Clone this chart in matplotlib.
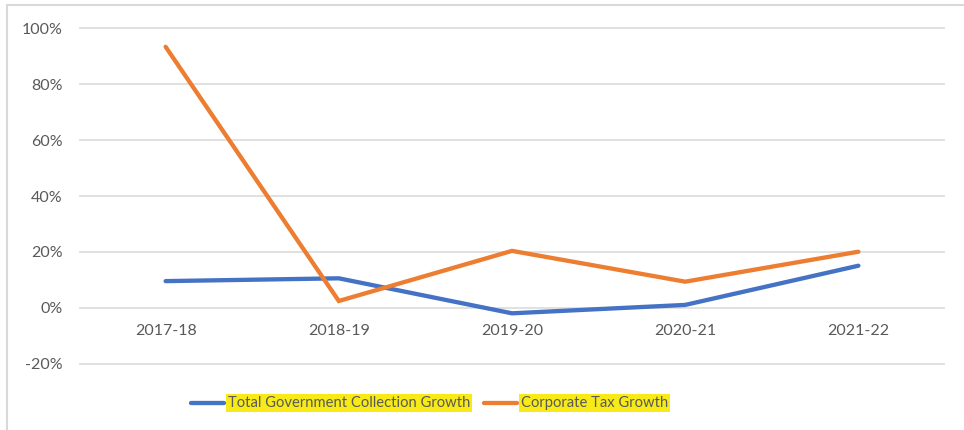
import matplotlib
matplotlib.use("Agg")
import matplotlib.pyplot as plt
from matplotlib.lines import Line2D
from matplotlib.ticker import FuncFormatter

# Fiscal years and growth rates (fractions)
years = ["2017-18", "2018-19", "2019-20", "2020-21", "2021-22"]
total_collection_growth = [0.096, 0.106, -0.019, 0.011, 0.151]
corporate_tax_growth = [0.933, 0.025, 0.204, 0.094, 0.201]
series_names = ["Total Government Collection Growth", "Corporate Tax Growth"]
series_colors = ["#4472C4", "#ED7D31"]
y_ticks = [-0.2, 0.0, 0.2, 0.4, 0.6, 0.8, 1.0]

W, H = 964, 430
FS = 11.5
TXT = "#595959"
fig = plt.figure(figsize=(W / 100, H / 100), dpi=100)
fig.patch.set_facecolor("white")
plt.rcParams["font.family"] = ["Lato", "DejaVu Sans"]

ax = fig.add_axes([79 / W, 1 - 365 / H, (945 - 79) / W, (365 - 27) / H])
x = list(range(len(years)))

for vals, name, col in zip([total_collection_growth, corporate_tax_growth],
                           series_names, series_colors):
    ax.plot(x, vals, color=col, lw=3.1, solid_capstyle="round",
            solid_joinstyle="miter", zorder=3, label=name)

ax.set_xlim(-0.5, len(years) - 0.5)
ax.set_ylim(-0.2036, 1.0036)
ax.set_yticks(y_ticks)
ax.yaxis.set_major_formatter(FuncFormatter(lambda v, p: f"{v * 100:.0f}%"))
ax.tick_params(axis="y", length=0, pad=12, labelsize=FS, labelcolor=TXT)
ax.set_xticks([])
ax.grid(axis="y", color="#D9D9D9", lw=1.1, zorder=0)
ax.patch.set_alpha(0)
for s in ax.spines.values():
    s.set_visible(False)

# category labels sit just below the zero line
for xi, lab in zip(x, years):
    ax.text(xi, -0.082, lab, ha="center", va="center", fontsize=FS, color=TXT)

# chart frame (top and left edges)
fig.add_artist(Line2D([6.5 / W, 6.5 / W], [0, 1 - 4.5 / H], color="#D9D9D9", lw=1.5,
                      transform=fig.transFigure))
fig.add_artist(Line2D([6.5 / W, 1], [1 - 4.5 / H, 1 - 4.5 / H], color="#D9D9D9", lw=1.5,
                      transform=fig.transFigure))

# legend with highlighted labels
ly = 1 - 403 / H
for (x0, x1, tx), name, col in zip([(191, 224, 228), (484, 517, 521)],
                                   series_names, series_colors):
    fig.add_artist(Line2D([x0 / W, x1 / W], [ly, ly], color=col, lw=3.1,
                          solid_capstyle="round", transform=fig.transFigure))
    fig.text(tx / W, ly, name, ha="left", va="center", fontsize=10.6, color=TXT,
             bbox=dict(boxstyle="square,pad=0.14", fc="#F7EA17", ec="none"))

fig.savefig("out.png", dpi=100, facecolor="white")
